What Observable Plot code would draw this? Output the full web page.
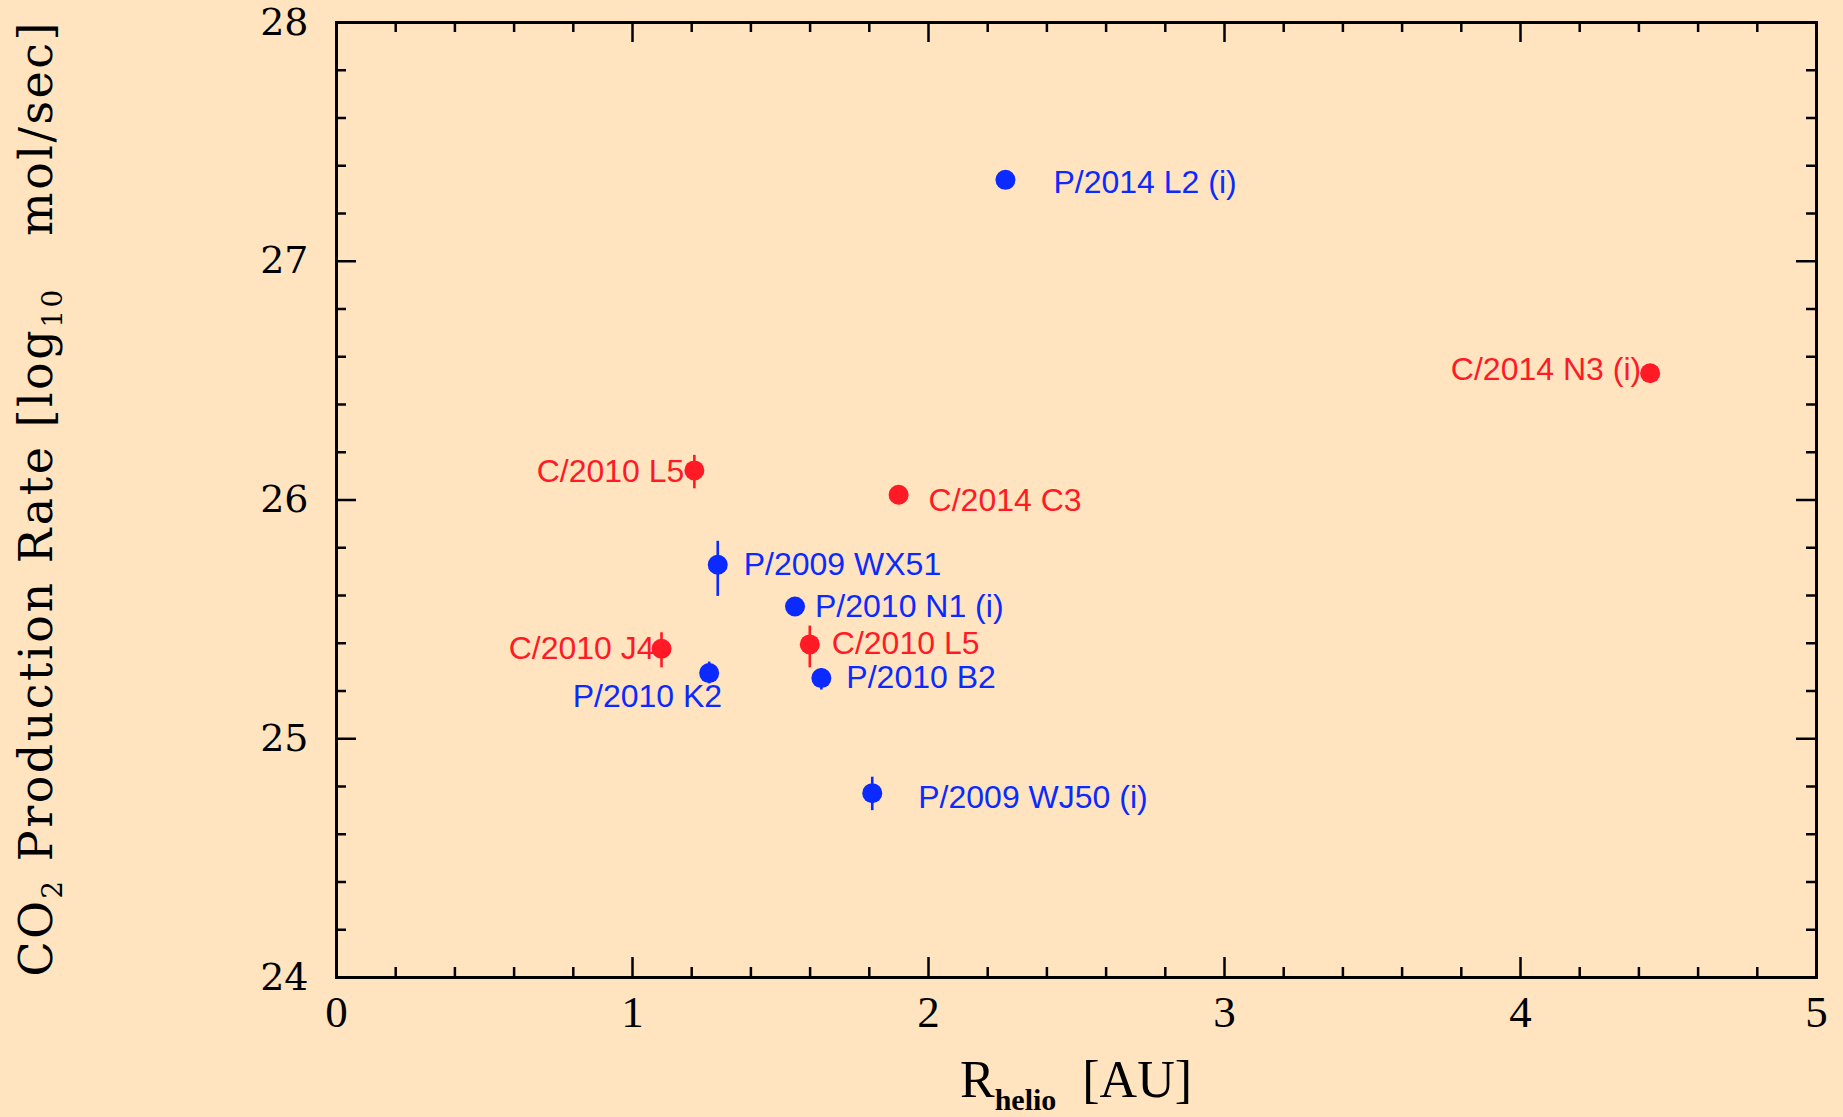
<!DOCTYPE html>
<html><head><meta charset="utf-8">
<script src="https://cdn.jsdelivr.net/npm/d3@7"></script>
<script src="https://cdn.jsdelivr.net/npm/@observablehq/plot@0.6"></script>
<style>
html,body{margin:0;padding:0;background:#ffe4bf;}
#chart svg{display:block}
</style></head><body><div id="chart"></div>
<script>
// ---- data ----
const comets  = ["P/2014 L2 (i)", "C/2014 N3 (i)", "C/2010 L5", "C/2014 C3", "P/2009 WX51",
                 "P/2010 N1 (i)", "C/2010 L5", "C/2010 J4", "P/2010 K2", "P/2010 B2", "P/2009 WJ50 (i)"];
const rHelio  = [2.260, 4.438, 1.209, 1.899, 1.288, 1.549, 1.599, 1.098, 1.259, 1.638, 1.810];
const logQ    = [27.341, 26.531, 26.124, 26.022, 25.729, 25.554, 25.395, 25.377, 25.275, 25.254, 24.772];
const errUp   = [0, 0, 0.063, 0, 0.098, 0, 0.077, 0.067, 0.046, 0.040, 0.067];
const errDown = [0, 0, 0.077, 0, 0.133, 0, 0.098, 0.080, 0.045, 0.050, 0.073];
const xTicks  = [0, 1, 2, 3, 4, 5];
const yTicks  = [24, 25, 26, 27, 28];

// ---- layout & style ----
const W = 1843, H = 1117, mL = 336, mR = 27, mT = 22, mB = 140;
const innerW = W - mL - mR, innerH = H - mT - mB;
const BLUE = "#0a2aff", RED = "#ff1a26", BG = "#ffe4bf";
const labelPlace = [
  {anchor: "start", dx: 48, dy: 3},
  {anchor: "end",   dx: -9, dy: -3},
  {anchor: "end",   dx: -10, dy: 1},
  {anchor: "start", dx: 30, dy: 6},
  {anchor: "start", dx: 26, dy: 0},
  {anchor: "start", dx: 20, dy: 0},
  {anchor: "start", dx: 22, dy: -1},
  {anchor: "end",   dx: -7, dy: 0},
  {anchor: "end",   dx: 13, dy: 24},
  {anchor: "start", dx: 25, dy: 0},
  {anchor: "start", dx: 46, dy: 5}
];
const major = 20, minor = 10, tickW = 2.5;

const data = comets.map((name, i) => ({
  name, cls: name[0], r: rHelio[i], q: logQ[i],
  lo: logQ[i] - errDown[i], hi: logQ[i] + errUp[i], i
}));
const xMinor = d3.range(0, 5.0001, 0.2).filter(v => Math.abs(v - Math.round(v)) > 1e-6);
const yMinor = d3.range(24, 28.0001, 0.2).filter(v => Math.abs(v - Math.round(v)) > 1e-6);

const tickMarks = [];
for (const [vals, len] of [[yTicks, major], [yMinor, minor]]) {
  tickMarks.push(Plot.tickY(vals, {y: d => d, insetRight: innerW - len, stroke: "black", strokeWidth: tickW}));
  tickMarks.push(Plot.tickY(vals, {y: d => d, insetLeft: innerW - len, stroke: "black", strokeWidth: tickW}));
}
for (const [vals, len] of [[xTicks, major], [xMinor, minor]]) {
  tickMarks.push(Plot.tickX(vals, {x: d => d, insetTop: innerH - len, stroke: "black", strokeWidth: tickW}));
  tickMarks.push(Plot.tickX(vals, {x: d => d, insetBottom: innerH - len, stroke: "black", strokeWidth: tickW}));
}

const labelMarks = data.map((d, i) => Plot.text([d], {
  x: "r", y: "q", text: "name", fill: "cls",
  textAnchor: labelPlace[i].anchor, dx: labelPlace[i].dx, dy: labelPlace[i].dy,
  fontSize: 32, fontFamily: "Liberation Sans, Arial, sans-serif"
}));

const plot = Plot.plot({
  width: W, height: H,
  marginLeft: mL, marginRight: mR, marginTop: mT, marginBottom: mB,
  style: {background: BG, color: "black"},
  x: {domain: [0, 5], label: null},
  y: {domain: [24, 28], label: null},
  color: {domain: ["P", "C"], range: [BLUE, RED]},
  marks: [
    ...tickMarks,
    Plot.axisY(yTicks, {anchor: "left", tickSize: 0, tickPadding: 28, tickFormat: d => String(d),
      fontSize: 38, fontFamily: "DejaVu Serif, serif", label: null}),
    Plot.axisX(xTicks, {anchor: "bottom", tickSize: 0, tickPadding: 18, tickFormat: d => String(d),
      fontSize: 45, fontFamily: "Liberation Serif, serif", label: null}),
    Plot.frame({stroke: "black", strokeWidth: 3}),
    Plot.ruleX(data.filter(d => d.hi > d.lo), {x: "r", y1: "lo", y2: "hi", stroke: "cls", strokeWidth: 2.6}),
    Plot.dot(data, {x: "r", y: "q", r: 10, fill: "cls"}),
    ...labelMarks
  ]
});
document.getElementById("chart").appendChild(plot);

// ---- axis titles (with subscripts) ----
const svg = d3.select(plot);
const xt = svg.append("text")
  .attr("x", mL + innerW / 2).attr("y", 1097)
  .attr("text-anchor", "middle").attr("fill", "black")
  .attr("font-family", "Liberation Serif, serif").attr("font-size", 52)
  .style("white-space", "pre");
xt.append("tspan").text("R");
xt.append("tspan").attr("font-size", 30).attr("font-weight", "bold").attr("dy", 13).text("helio");
xt.append("tspan").attr("dy", -13).text("  [AU]");

const yt = svg.append("text")
  .attr("transform", `translate(52, ${mT + innerH / 2}) rotate(-90)`)
  .attr("text-anchor", "middle").attr("fill", "black")
  .attr("font-family", "DejaVu Serif, serif").attr("font-size", 46)
  .attr("textLength", 954).attr("lengthAdjust", "spacing")
  .style("white-space", "pre");
yt.append("tspan").text("CO");
yt.append("tspan").attr("font-size", 28).attr("dy", 10).text("2");
yt.append("tspan").attr("dy", -10).text(" Production Rate [log");
yt.append("tspan").attr("font-size", 28).attr("dy", 10).text("10");
yt.append("tspan").attr("dy", -10).text("   mol/sec]");
</script>
</body></html>
